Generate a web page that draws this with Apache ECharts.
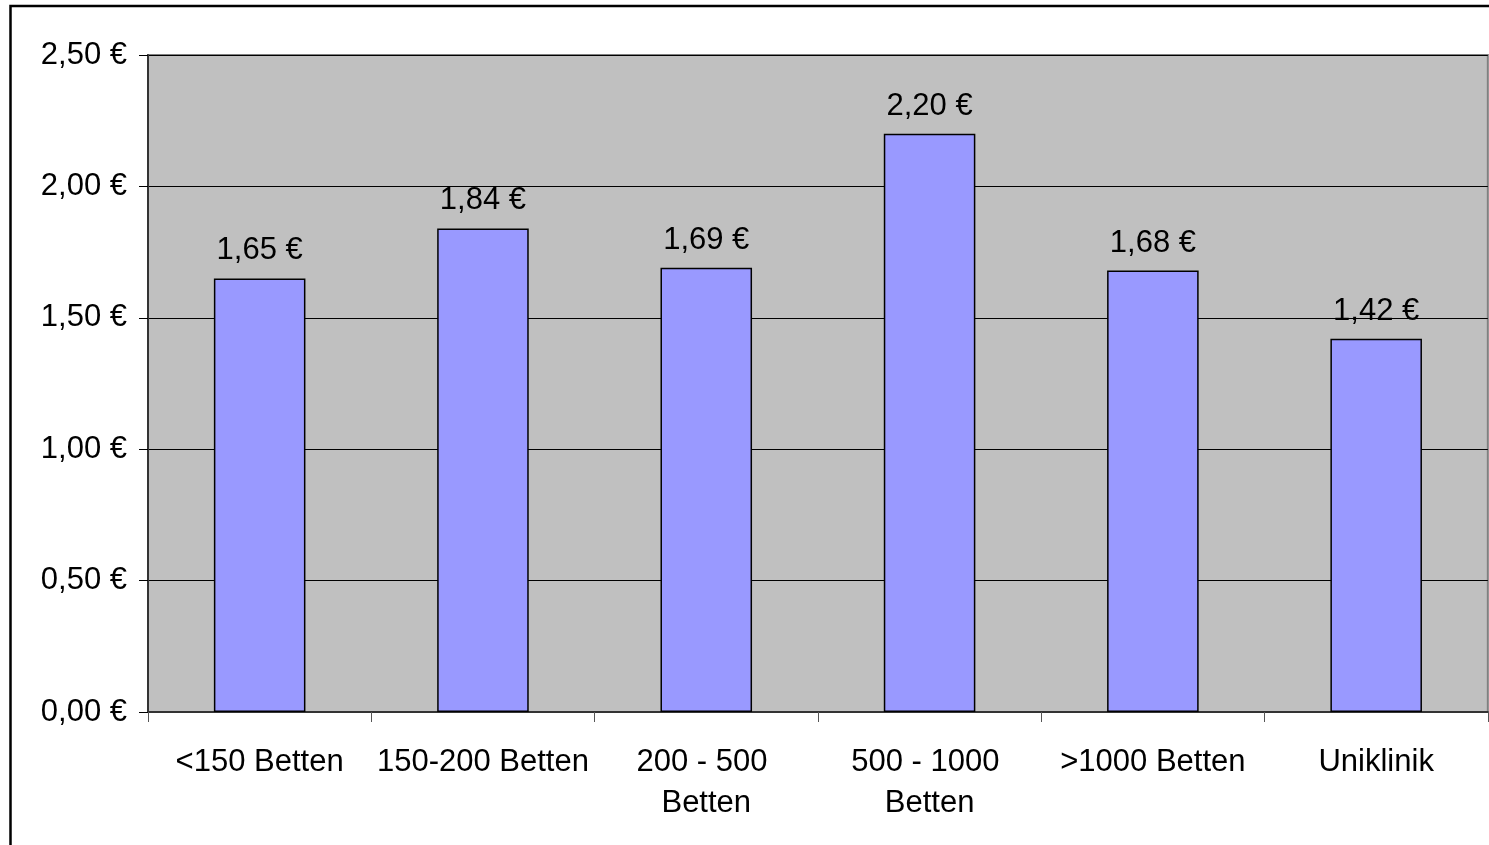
<!DOCTYPE html>
<html>
<head>
<meta charset="utf-8">
<script src="https://cdn.jsdelivr.net/npm/echarts@6/dist/echarts.min.js"></script>
<style>html,body{margin:0;padding:0;background:#fff;}#c{width:1489px;height:845px;}</style>
</head>
<body>
<div id="c"></div>
<script>
const categories = ['<150 Betten', '150-200 Betten', '200 - 500 Betten', '500 - 1000 Betten', '>1000 Betten', 'Uniklinik'];
const values = [1.65, 1.84, 1.69, 2.20, 1.68, 1.42];
const yMin = 0, yMax = 2.5, yInterval = 0.5;

function euro(v) { return v.toFixed(2).replace('.', ',') + ' €'; }

const chart = echarts.init(document.getElementById('c'), null, {renderer: 'canvas'});
const font = 'Liberation Sans, Arial, sans-serif';
chart.setOption({
  animation: false,
  backgroundColor: '#fff',
  graphic: [{
    type: 'rect', z: 100, silent: true,
    shape: {x: 10.5, y: 6, width: 3000, height: 3000},
    style: {fill: 'none', stroke: '#000', lineWidth: 2.5}
  }],
  grid: {
    left: 148, top: 55, right: -1, bottom: 133,
    show: true, backgroundColor: '#C0C0C0', borderColor: '#808080', borderWidth: 2
  },
  xAxis: {
    type: 'category',
    data: categories,
    axisLine: {lineStyle: {color: '#333', width: 2}},
    axisTick: {show: true, length: 10, lineStyle: {color: '#555', width: 1}},
    axisLabel: {
      color: '#000', fontFamily: font, fontSize: 31, lineHeight: 41, margin: 30,
      width: 220, overflow: 'break', interval: 0
    }
  },
  yAxis: {
    type: 'value', min: yMin, max: yMax, interval: yInterval,
    axisLine: {show: true, lineStyle: {color: '#333', width: 2}},
    axisTick: {show: true, length: 9, lineStyle: {color: '#000', width: 1}},
    axisLabel: {color: '#000', fontFamily: font, fontSize: 31, margin: 21, padding: [8, 0, 0, 0], formatter: euro},
    splitLine: {show: true, lineStyle: {color: '#000', width: 1.2}}
  },
  series: [{
    type: 'bar',
    data: values,
    barWidth: '41%',
    itemStyle: {color: '#9999FF', borderColor: '#000', borderWidth: 1.5},
    label: {
      show: true, position: 'top', distance: 12, color: '#000',
      fontFamily: font, fontSize: 31,
      formatter: p => euro(p.value)
    }
  }]
});
</script>
</body>
</html>
